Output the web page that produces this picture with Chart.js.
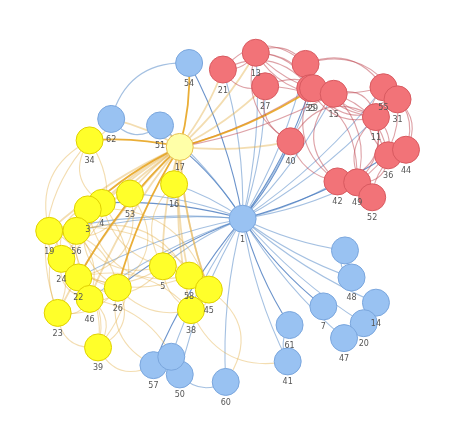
<!DOCTYPE html><html><head><meta charset="utf-8">
<script src="https://cdn.jsdelivr.net/npm/chart.js@4"></script>
<style>html,body{margin:0;background:#fff}#w{width:474px;height:430px}</style></head>
<body><div id="w"><canvas id="c"></canvas></div><script>
const nodeNames=["1","17","21","13","9","35","29","27","15","40","55","31","11","36","44","42","49","52",
"34","16","53","4","3","19","56","24","22","5","58","45","26","46","38","23","39",
"54","51","62","6","48","7","14","20","47","61","41","60","50","57","10"];
const nodeX=[243,176,222,257,310,315,318,267,340,294,393,408,385,398,417,344,365,381,
80,170,123,93,78,37,66,50,68,158,186,207,110,80,188,46,89,
186,155,103,352,359,329,385,372,351,293,291,225,176,148,167];
const nodeY=[219,142,59,41,53,79,79,77,85,136,78,91,110,151,145,179,180,196,
135,182,192,202,209,232,232,262,282,270,280,295,293,305,317,320,357,
52,119,112,253,282,313,309,331,347,333,372,394,386,376,367];
const nodeGroup=[0,1,2,2,2,2,2,2,2,2,2,2,2,2,2,2,2,2,1,1,1,1,1,1,1,1,1,1,1,1,1,1,1,1,1,0,0,0,0,0,0,0,0,0,0,0,0,0,0,0];
const hiddenLabels=["9","6","10"];
const edgeList=[
[0,1],[0,2],[0,3],[0,4],[0,5],[0,6],[0,7],[0,8],[0,9],[0,12],[0,15],[0,16],[0,35],[0,36],[0,38],[0,39],[0,40],[0,41],[0,42],[0,43],[0,44],[0,45],[0,46],[0,47],[0,48],[0,49],[0,19],[0,20],[0,21],[0,23],[0,24],[0,27],[0,30],[0,31],[0,26],[0,10],[0,13],
[1,2],[1,3],[1,5],[1,6],[1,7],[1,8],[1,9],[1,18],[1,19],[1,20],[1,21],[1,22],[1,23],[1,24],[1,25],[1,26],[1,27],[1,28],[1,29],[1,30],[1,31],[1,32],[1,33],[1,35],[1,37],[1,36],
[2,3],[3,4],[4,8],[3,5],[5,8],[8,12],[12,10],[10,11],[11,12],[12,13],[13,14],[12,15],[15,16],[16,17],[8,15],[8,16],[7,9],[9,12],[3,8],[4,10],[6,11],[7,8],[2,7],[13,16],[14,17],[11,14],[10,13],[3,6],[5,12],
[2,4],[3,10],[4,11],[8,11],[8,13],[5,15],[7,16],[9,15],[10,14],[11,13],[12,16],[3,9],[6,8],[4,12],[2,5],[12,17],[11,16],
[18,23],[18,25],[18,37],[21,22],[22,24],[23,24],[23,25],[25,26],[26,31],[31,33],[24,30],[27,28],[28,29],[29,32],[27,32],[30,31],[33,34],[26,34],[22,30],[20,23],[21,27],[24,28],[25,31],[23,33],[19,27],[20,26],[30,32],[22,29],[26,27],[25,34],[32,45],[29,46],
[18,33],[23,26],[21,25],[24,31],[22,33],[20,30],[25,28],[23,30],[18,21],[26,32],[24,27],[31,34],[33,30],[21,34],[22,28],[23,29],[25,27],[30,34],
[47,48],[48,49],[47,49],[41,42],[42,43],[39,38],[44,45],[46,47],[34,48],[31,47],[30,48],[36,37],[1,29],[37,35]];
const data=nodeX.map((x,i)=>({x,y:nodeY[i]}));
const fill=["#99c2f2","#ffff2a","#f27378"], border=["#7aa6dd","#e0d000","#d85a60"];
const edgeCol=[["rgba(90,140,200,0.55)","rgba(70,120,190,0.8)"],["rgba(225,170,60,0.4)","rgba(230,160,20,0.85)"],["rgba(190,70,80,0.5)","rgba(190,30,40,0.85)"]];
const edgePlugin={id:'edges',beforeDatasetsDraw(ch){
 const c=ch.ctx,xs=ch.scales.x,ys=ch.scales.y;c.save();
 edgeList.forEach(([a,b],k)=>{
  const x1=xs.getPixelForValue(nodeX[a]),y1=ys.getPixelForValue(nodeY[a]),x2=xs.getPixelForValue(nodeX[b]),y2=ys.getPixelForValue(nodeY[b]);
  const hub=(a<=1);const g=a===0?0:(a===1?(nodeGroup[b]===2&&k%3===0?2:1):nodeGroup[a]);
  const mx=(x1+x2)/2,my=(y1+y2)/2,dx=x2-x1,dy=y2-y1;const bend=hub?0.08:(0.3+0.2*(k%3)/2)*((k%2)?1:-1);
  c.strokeStyle=edgeCol[g][hub&&k%4===0?1:0];c.lineWidth=hub&&g===1?1.8:1.1;
  c.beginPath();c.moveTo(x1,y1);c.quadraticCurveTo(mx-dy*bend,my+dx*bend,x2,y2);c.stroke();});
 c.restore();},
 afterDatasetsDraw(ch){const c=ch.ctx,xs=ch.scales.x,ys=ch.scales.y;c.save();c.font="8px 'DejaVu Sans'";c.fillStyle="#555";c.textAlign="center";
 nodeNames.forEach((n,i)=>{if(hiddenLabels.includes(n))return;c.fillText(n,xs.getPixelForValue(nodeX[i]),ys.getPixelForValue(nodeY[i])+23);});c.restore();}};
new Chart(document.getElementById('c'),{type:'scatter',data:{datasets:[{data,
 pointRadius:13.5,pointHoverRadius:13.5,
 backgroundColor:nodeGroup.map((g,i)=>i===1?"#ffffa8":fill[g]),borderColor:nodeGroup.map((g,i)=>i===1?"#e8c050":border[g]),borderWidth:1}]},
 options:{responsive:true,maintainAspectRatio:false,animation:false,layout:{padding:0},
 plugins:{legend:{display:false},tooltip:{enabled:false}},
 scales:{x:{display:false,min:0,max:474},y:{display:false,min:0,max:430,reverse:true}}},plugins:[edgePlugin]});
</script></body></html>
